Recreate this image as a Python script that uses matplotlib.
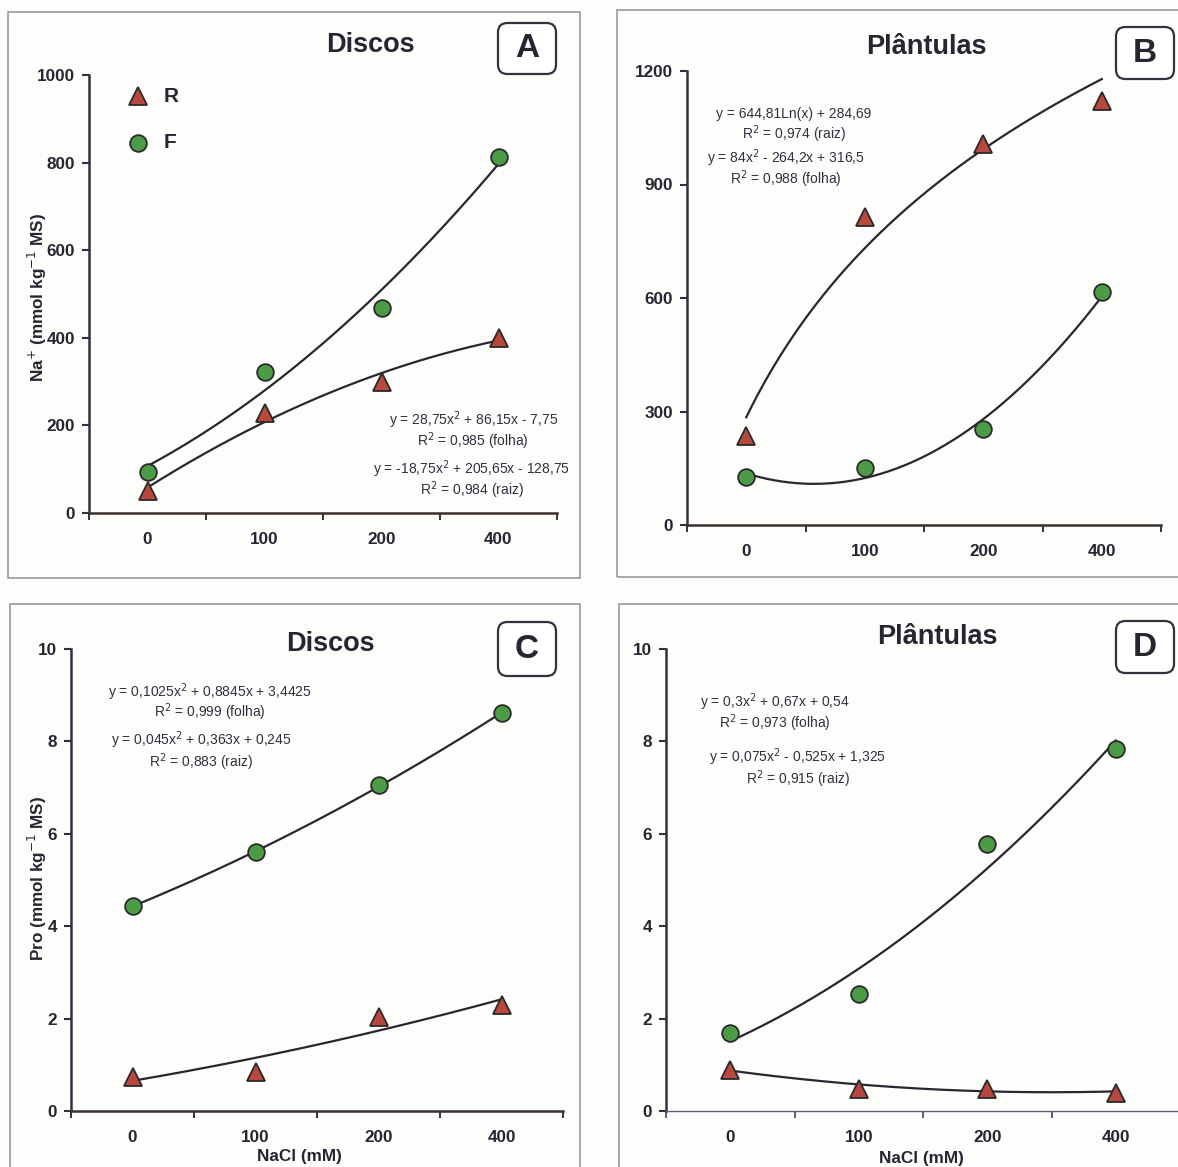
import numpy as np
import matplotlib
matplotlib.use("Agg")
import matplotlib.pyplot as plt
from matplotlib.patches import Rectangle, FancyBboxPatch

plt.rcParams['font.family'] = ['Liberation Sans', 'DejaVu Sans']

# ---- data -------------------------------------------------------------
nacl_labels = ["0", "100", "200", "400"]

# Panel A: Na+ in leaf discs (mmol kg-1 MS)
na_discos_raiz = [50, 228, 298, 400]
na_discos_folha = [93, 322, 468, 812]
# Panel B: Na+ in seedlings
na_plant_raiz = [235, 813, 1008, 1122]
na_plant_folha = [126, 150, 253, 615]
# Panel C: proline in leaf discs
pro_discos_raiz = [0.73, 0.84, 2.04, 2.30]
pro_discos_folha = [4.44, 5.60, 7.05, 8.62]
# Panel D: proline in seedlings
pro_plant_raiz = [0.88, 0.48, 0.48, 0.38]
pro_plant_folha = [1.68, 2.54, 5.79, 7.84]

# trendline coefficients (x = category index 1..4)
fitA_folha = [28.75, 86.15, -7.75]
fitA_raiz = [-18.75, 205.65, -128.75]
fitB_raiz_log = [644.81, 284.69]
fitB_folha = [84.0, -264.2, 316.5]
fitC_folha = [0.1025, 0.8845, 3.4425]
fitC_raiz = [0.045, 0.363, 0.245]
fitD_folha = [0.3, 0.67, 0.54]
fitD_raiz = [0.075, -0.525, 1.325]

# ---- figure -----------------------------------------------------------
W, H = 1178, 1167
fig = plt.figure(figsize=(W / 100, H / 100), dpi=100)
fig.patch.set_facecolor("#fdfdfb")

TXT = "#262633"
RED = "#b8473e"
GREEN = "#4c9c47"
EDGE = "#2a2a2a"
TICK_FS = 12.3
TITLE_FS = 19.5
EQ_FS = 10


def frac_rect(x0, y0, x1, y1):
    """pixel box (top-left origin) -> figure fraction rect"""
    return [x0 / W, 1 - y1 / H, (x1 - x0) / W, (y1 - y0) / H]


def fig_xy(x, y):
    return x / W, 1 - y / H


def panel_frame(x0, y0, x1, y1):
    r = Rectangle((x0 / W, 1 - y1 / H), (x1 - x0) / W, (y1 - y0) / H,
                  transform=fig.transFigure, fill=False,
                  edgecolor="#9a9a9a", linewidth=1.2, zorder=0)
    fig.patches.append(r)


def letter_box(x0, y0, x1, y1, letter):
    fx, fy = x0 / W, 1 - y1 / H
    r = FancyBboxPatch((fx, fy), (x1 - x0) / W, (y1 - y0) / H,
                       boxstyle="round,pad=0,rounding_size=0.008",
                       transform=fig.transFigure, fill=True, facecolor="white",
                       edgecolor="#333340", linewidth=1.6, zorder=1)
    fig.patches.append(r)
    cx, cy = fig_xy((x0 + x1) / 2, (y0 + y1) / 2)
    fig.text(cx, cy, letter, fontsize=24, fontweight="bold", color=TXT,
             ha="center", va="center")


def setup_axes(rect_px, ylim, yticks, xaxis_lw=1.8, xaxis_color="#3a3030"):
    ax = fig.add_axes(frac_rect(*rect_px))
    ax.set_facecolor("none")
    ax.set_xlim(0.5, 4.5)
    ax.set_ylim(*ylim)
    ax.set_yticks(yticks)
    ax.set_yticklabels([str(t) for t in yticks])
    ax.set_xticks([1, 2, 3, 4])
    ax.set_xticklabels(nacl_labels)
    ax.set_xticks([0.5, 1.5, 2.5, 3.5, 4.5], minor=True)
    for s in ("top", "right"):
        ax.spines[s].set_visible(False)
    ax.spines["left"].set_linewidth(1.8)
    ax.spines["left"].set_color("#303040")
    ax.spines["bottom"].set_linewidth(xaxis_lw)
    ax.spines["bottom"].set_color(xaxis_color)
    ax.tick_params(axis="x", which="major", length=0, pad=14,
                   labelsize=TICK_FS, labelcolor=TXT)
    ax.tick_params(axis="x", which="minor", length=5, width=1.4,
                   direction="out", color=xaxis_color)
    ax.tick_params(axis="y", length=5, width=1.5, direction="out",
                   pad=5, labelsize=TICK_FS, labelcolor=TXT, color="#303040")
    for lab in ax.get_xticklabels() + ax.get_yticklabels():
        lab.set_fontweight("bold")
    return ax


def plot_series(ax, raiz, folha, fit_raiz, fit_folha, log_raiz=False):
    xs = np.arange(1, 5)
    xx = np.linspace(1, 4, 200)
    if log_raiz:
        yr = fit_raiz[0] * np.log(xx) + fit_raiz[1]
    else:
        yr = np.polyval(fit_raiz, xx)
    yf = np.polyval(fit_folha, xx)
    ax.plot(xx, yr, color="#2b2530", lw=1.6, zorder=2, clip_on=False)
    ax.plot(xx, yf, color="#2b2530", lw=1.6, zorder=2, clip_on=False)
    ax.plot(xs, raiz, linestyle="none", marker="^", markersize=13,
            markerfacecolor=RED, markeredgecolor=EDGE, markeredgewidth=1.3,
            zorder=3, clip_on=False)
    ax.plot(xs, folha, linestyle="none", marker="o", markersize=12,
            markerfacecolor=GREEN, markeredgecolor=EDGE, markeredgewidth=1.3,
            zorder=3, clip_on=False)


def eq_text(x, y, s):
    fx, fy = fig_xy(x, y)
    fig.text(fx, fy, s, fontsize=EQ_FS, color="#303040", ha="center",
             va="center")


def y_label(ax, text, x, y):
    ax.set_ylabel(text, fontsize=12.3, fontweight="bold", color=TXT)
    ax.yaxis.label.set_va("center")
    ax.yaxis.set_label_coords(*fig_xy(x, y), transform=fig.transFigure)


def x_label(ax, text, x, y):
    ax.set_xlabel(text, fontsize=12.3, fontweight="bold", color=TXT)
    ax.xaxis.label.set_va("center")
    ax.xaxis.set_label_coords(*fig_xy(x, y), transform=fig.transFigure)


# panel frames
panel_frame(8, 12, 580, 578)
panel_frame(617, 10, 1190, 577)
panel_frame(10, 604, 580, 1190)
panel_frame(619, 604, 1190, 1190)

# ---- A ----------------------------------------------------------------
axA = setup_axes((89, 75, 557, 513), (0, 1000), [0, 200, 400, 600, 800, 1000])
plot_series(axA, na_discos_raiz, na_discos_folha, fitA_raiz, fitA_folha)
y_label(axA, r"Na$^{+}$ (mmol kg$^{-1}$ MS)", 37, 297)
fig.text(*fig_xy(370, 45), "Discos", fontsize=TITLE_FS, fontweight="bold",
         color=TXT, ha="center", va="center")
letter_box(498, 23, 556, 74, "A")
# legend markers
lx, ly1 = fig_xy(138, 96)
_, ly2 = fig_xy(138, 143)
fig.lines.append(plt.Line2D([lx], [ly1], transform=fig.transFigure,
                            marker="^", markersize=13, markerfacecolor=RED,
                            markeredgecolor=EDGE, markeredgewidth=1.3,
                            linestyle="none"))
fig.lines.append(plt.Line2D([lx], [ly2], transform=fig.transFigure,
                            marker="o", markersize=12, markerfacecolor=GREEN,
                            markeredgecolor=EDGE, markeredgewidth=1.3,
                            linestyle="none"))
fig.text(*fig_xy(164, 96), "R", fontsize=15, fontweight="bold", color=TXT,
         ha="left", va="center")
fig.text(*fig_xy(164, 143), "F", fontsize=15, fontweight="bold", color=TXT,
         ha="left", va="center")
eq_text(474, 420, r"y = 28,75x$^{2}$ + 86,15x - 7,75")
eq_text(473, 441, r"R$^{2}$ = 0,985 (folha)")
eq_text(472, 469, r"y = -18,75x$^{2}$ + 205,65x - 128,75")
eq_text(472, 490, r"R$^{2}$ = 0,984 (raiz)")

# ---- B ----------------------------------------------------------------
axB = setup_axes((687, 71, 1161, 525), (0, 1200), [0, 300, 600, 900, 1200])
plot_series(axB, na_plant_raiz, na_plant_folha, fitB_raiz_log, fitB_folha,
            log_raiz=True)
fig.text(*fig_xy(926, 47), "Plântulas", fontsize=TITLE_FS, fontweight="bold",
         color=TXT, ha="center", va="center")
letter_box(1116, 27, 1174, 79, "B")
eq_text(794, 114, "y = 644,81Ln(x) + 284,69")
eq_text(794, 134, r"R$^{2}$ = 0,974 (raiz)")
eq_text(786, 158, r"y = 84x$^{2}$ - 264,2x + 316,5")
eq_text(786, 179, r"R$^{2}$ = 0,988 (folha)")

# ---- C ----------------------------------------------------------------
axC = setup_axes((71, 649, 563, 1111), (0, 10), [0, 2, 4, 6, 8, 10])
plot_series(axC, pro_discos_raiz, pro_discos_folha, fitC_raiz, fitC_folha)
y_label(axC, r"Pro (mmol kg$^{-1}$ MS)", 37, 878)
x_label(axC, "NaCl (mM)", 299, 1156)
fig.text(*fig_xy(330, 644), "Discos", fontsize=TITLE_FS, fontweight="bold",
         color=TXT, ha="center", va="center")
letter_box(498, 622, 556, 676, "C")
eq_text(210, 692, r"y = 0,1025x$^{2}$ + 0,8845x + 3,4425")
eq_text(210, 712, r"R$^{2}$ = 0,999 (folha)")
eq_text(201, 740, r"y = 0,045x$^{2}$ + 0,363x + 0,245")
eq_text(201, 762, r"R$^{2}$ = 0,883 (raiz)")

# ---- D ----------------------------------------------------------------
axD = setup_axes((666, 649, 1180, 1111), (0, 10), [0, 2, 4, 6, 8, 10],
                 xaxis_lw=1.0, xaxis_color="#5c5c80")
plot_series(axD, pro_plant_raiz, pro_plant_folha, fitD_raiz, fitD_folha)
x_label(axD, "NaCl (mM)", 921, 1159)
fig.text(*fig_xy(937, 637), "Plântulas", fontsize=TITLE_FS, fontweight="bold",
         color=TXT, ha="center", va="center")
letter_box(1116, 621, 1174, 673, "D")
eq_text(775, 702, r"y = 0,3x$^{2}$ + 0,67x + 0,54")
eq_text(775, 723, r"R$^{2}$ = 0,973 (folha)")
eq_text(798, 757, r"y = 0,075x$^{2}$ - 0,525x + 1,325")
eq_text(798, 779, r"R$^{2}$ = 0,915 (raiz)")

fig.savefig("out.png", dpi=100, facecolor=fig.get_facecolor())
